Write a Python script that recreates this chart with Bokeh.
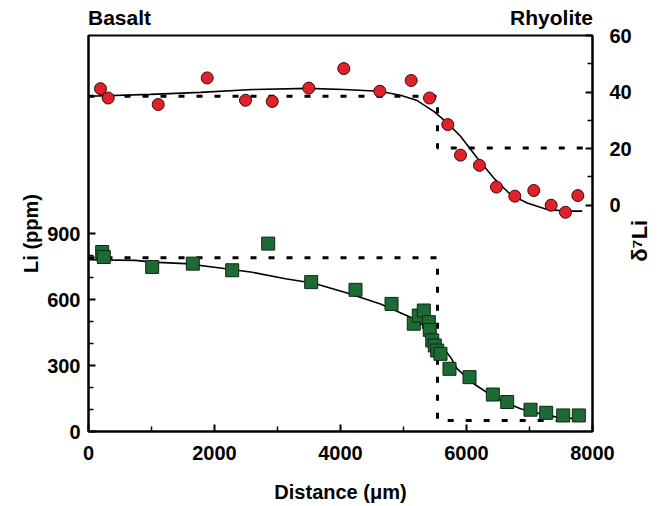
import math
from bokeh.plotting import figure
from bokeh.models import Range1d, LinearAxis, FixedTicker, Title
from bokeh.embed import file_html
from bokeh.resources import INLINE

# --- data ---
dist_d7li = [190, 313, 1106, 1884, 2492, 2916, 3497, 4052, 4624, 5122, 5413,
             5703, 5905, 6206, 6476, 6767, 7068, 7344, 7571, 7767]
d7li = [41.2, 37.9, 35.6, 45.0, 37.1, 36.7, 41.4, 48.3, 40.3, 44.1, 37.9,
        28.5, 17.7, 14.1, 6.4, 3.2, 5.2, 0.0, -2.5, 3.4]

dist_li = [217, 243, 1011, 1656, 2281, 2852, 3535, 4238, 4810, 5163, 5243,
           5322, 5402, 5417, 5456, 5497, 5535, 5587, 5730, 6048, 6418, 6646,
           7016, 7265, 7535, 7783]
li = [816, 793, 748, 763, 733, 854, 679, 644, 580, 490, 527,
      550, 497, 462, 414, 391, 368, 353, 285, 247, 168, 134,
      99, 85, 73, 73]

fit_dist_d = [0, 984, 1778, 2603, 3492, 4048, 4619, 4952, 5217, 5481, 5694,
              5905, 6170, 6433, 6698, 6963, 7281, 7598, 7837]
fit_d7li = [38.5, 39.2, 39.9, 40.9, 41.3, 40.9, 40.3, 38.9, 37.0, 33.2, 29.1,
            24.4, 16.7, 9.6, 3.8, 0.8, -1.5, -2.1, -2.1]

fit_dist_li = [0, 746, 1011, 1540, 2063, 2598, 3127, 3576, 4106, 4635, 5111,
               5322, 5535, 5746, 5852, 6116, 6433, 6857, 7175, 7492, 7810]
fit_li = [781, 778, 770, 763, 744, 724, 694, 674, 630, 580, 519,
          482, 414, 338, 285, 217, 156, 103, 80, 62, 58]

init_dist_d = [0, 5540, 5540, 8000]
init_d7li = [38.5, 38.5, 20.2, 20.2]
init_dist_li = [0, 5540, 5540, 8000]
init_li = [790, 790, 50, 50]

x_ticks = [0, 2000, 4000, 6000, 8000]
x_minor = [1000, 3000, 5000, 7000]
li_ticks = [0, 300, 600, 900]
li_minor = [100, 200, 400, 500, 700, 800]
d_ticks = [0, 20, 40, 60]
d_minor = [10, 30, 50]

end_labels = ["Basalt", "Rhyolite"]
right_title = "δ⁷Li"

FONT = "Liberation Sans"

p = figure(width=668, height=506, output_backend="svg", toolbar_location=None,
           x_range=Range1d(0, 8000), y_range=Range1d(0, 1800),
           min_border_left=88, min_border_right=76, min_border_top=35,
           min_border_bottom=75, x_axis_location=None, y_axis_location=None)
p.extra_y_ranges = {"d": Range1d(-80, 60)}
p.xgrid.visible = False
p.ygrid.visible = False
p.outline_line_color = "black"
p.outline_line_width = 2
p.background_fill_color = "white"
p.border_fill_color = "white"


def style_axis(ax, ticks, minor):
    ax.ticker = FixedTicker(ticks=ticks, minor_ticks=minor)
    ax.axis_line_width = 2
    ax.axis_line_color = "black"
    ax.major_tick_in = 7
    ax.major_tick_out = 0
    ax.minor_tick_in = 5
    ax.minor_tick_out = 0
    ax.major_tick_line_width = 2
    ax.minor_tick_line_width = 1.5
    ax.major_label_text_font = FONT
    ax.major_label_text_font_style = "bold"
    ax.major_label_text_font_size = "20px"
    ax.major_label_text_color = "black"
    ax.axis_label_text_font = FONT
    ax.axis_label_text_font_style = "bold"
    ax.axis_label_text_font_size = "20px"
    ax.axis_label_text_color = "black"


def label_axis(ax, standoff, size, orientation=None):
    ax.axis_line_color = None
    ax.major_tick_line_color = None
    ax.minor_tick_line_color = None
    ax.major_tick_out = 0
    ax.major_tick_in = 0
    ax.major_label_standoff = standoff
    ax.major_label_text_font = FONT
    ax.major_label_text_font_style = "bold"
    ax.major_label_text_font_size = size
    ax.major_label_text_color = "black"
    if orientation is not None:
        ax.major_label_orientation = orientation


xa = LinearAxis()
style_axis(xa, x_ticks, x_minor)
xa.major_label_standoff = 14
xa.axis_label = "Distance (μm)"
xa.axis_label_standoff = 18
p.add_layout(xa, "below")

ya = LinearAxis()
style_axis(ya, li_ticks, li_minor)
ya.major_label_standoff = 8
p.add_layout(ya, "left")

ra = LinearAxis(y_range_name="d")
style_axis(ra, d_ticks, d_minor)
ra.major_label_standoff = 17
p.add_layout(ra, "right")

# right-hand title, written as a rotated label reading upwards
rt_pos = [-20]
rt = LinearAxis(y_range_name="d",
                ticker=FixedTicker(ticks=rt_pos, minor_ticks=[]),
                major_label_overrides={rt_pos[0]: right_title})
label_axis(rt, 5, "22px", math.pi / 2)
p.add_layout(rt, "right")

# "Basalt" / "Rhyolite" end-member labels above the frame
end_pos = [492, 7349]
ta = LinearAxis(ticker=FixedTicker(ticks=end_pos, minor_ticks=[]),
                major_label_overrides={end_pos[0]: end_labels[0],
                                       end_pos[1]: end_labels[1]})
label_axis(ta, 7, "21px")
p.add_layout(ta, "above")

# left axis title, placed lower than centre as in the reference
lt = Title(text="Li (ppm)", align="center", offset=-36, text_font=FONT,
           text_font_style="bold", text_font_size="20px", text_color="black",
           standoff=6)
p.add_layout(lt, "left")

# initial-condition step profiles (dashed)
p.line(init_dist_d, init_d7li, y_range_name="d", line_color="black",
       line_width=3, line_dash="6 12")
p.line(init_dist_li, init_li, line_color="black", line_width=3,
       line_dash="6 12")

# model curves
p.line(fit_dist_d, fit_d7li, y_range_name="d", line_color="black",
       line_width=1.6)
p.line(fit_dist_li, fit_li, line_color="black", line_width=1.6)

# measurements
p.scatter(dist_d7li, d7li, y_range_name="d", marker="circle", size=12,
          fill_color="#e0202a", line_color="#3a0a0a", line_width=1)
p.scatter(dist_li, li, marker="square", size=13,
          fill_color="#1d6a34", line_color="#0c2a14", line_width=1)

open("out.html", "w").write(file_html(p, INLINE))
